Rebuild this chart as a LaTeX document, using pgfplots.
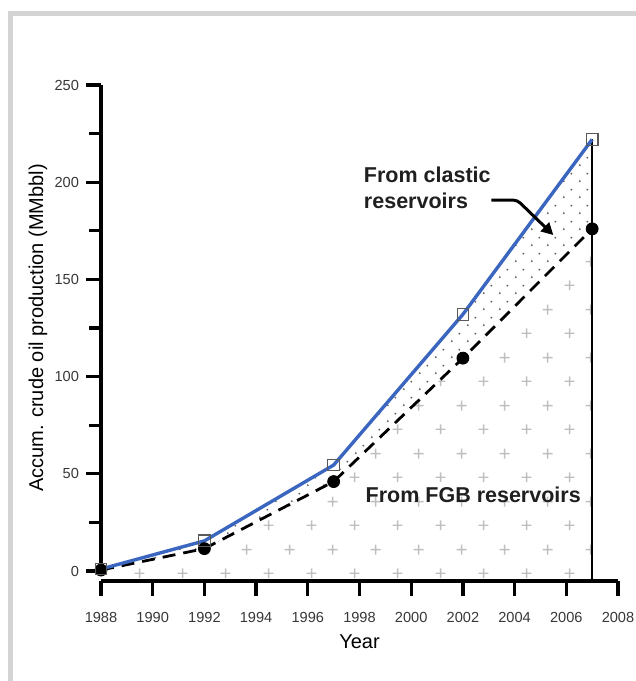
\documentclass[border=0pt]{standalone}
\usepackage{fontspec}
\setmainfont{Liberation Sans}
\usepackage{pgfplots}
\pgfplotsset{compat=1.18}
\usepgfplotslibrary{fillbetween}
\usetikzlibrary{patterns.meta,arrows.meta}

\definecolor{totblue}{RGB}{58,102,192}
\definecolor{framegray}{RGB}{212,212,212}
\definecolor{txtgray}{RGB}{55,55,55}

% light grey plus signs, staggered rows
\tikzdeclarepattern{
  name=plusgrid,
  tile size={(21.5pt,24pt)},
  bounding box={(0pt,0pt) and (21.5pt,24pt)},
  code={
    \draw[line width=0.7pt] (2.9pt,6pt) -- (7.9pt,6pt) (5.4pt,3.5pt) -- (5.4pt,8.5pt);
    \draw[line width=0.7pt] (13.65pt,18pt) -- (18.65pt,18pt) (16.15pt,15.5pt) -- (16.15pt,20.5pt);
  }
}
% small dark dots
\tikzdeclarepattern{
  name=finedots,
  tile size={(8pt,8pt)},
  bounding box={(0pt,0pt) and (8pt,8pt)},
  code={
    \fill (2pt,2pt) circle (0.55pt);
    \fill (6pt,6pt) circle (0.55pt);
  }
}

\begin{document}
\begin{tikzpicture}
\begin{axis}[
  at={(0,0)}, anchor=south west,
  scale only axis, width=258.5pt, height=243pt,
  xmin=1988, xmax=2008, ymin=0, ymax=250,
  axis lines=left,
  axis line style={line width=1.6pt, -},
  axis x line shift=5pt,
  xtick={1988,1990,...,2008},
  ytick={0,50,...,250},
  minor ytick={25,75,...,225},
  tick align=outside,
  major tick length=7.5pt, minor tick length=6pt,
  every tick/.style={black, line width=1.6pt},
  /pgf/number format/1000 sep={},
  /pgf/number format/assume math mode=true,
  tick label style={font=\fontsize{7.3}{8}\selectfont, text=txtgray},
  xticklabel style={yshift=-4.5pt},
  xlabel={Year}, ylabel={Accum. crude oil production (MMbbl)},
  label style={font=\fontsize{11}{13}\selectfont, text=txtgray},
  every axis x label/.style={at={(axis description cs:0.5,-0.146)}, anchor=center},
  every axis y label/.style={at={(axis description cs:-0.1219,0.5)}, rotate=90, anchor=center},
  clip=false,
]
\addplot[draw=none, name path=tot] coordinates {(1988,1)(1992,15.5)(1997,54.5)(2002,132)(2007,222)};
\addplot[draw=none, name path=fgb] coordinates {(1988,0.5)(1992,11.5)(1997,46)(2002,109.5)(2007,176)};
\addplot[draw=none, name path=base] coordinates {(1988,-4.8)(2007,-4.8)};
\addplot[draw=none, pattern=finedots, pattern color=black!60] fill between[of=tot and fgb];
\addplot[draw=none, pattern=plusgrid, pattern color=black!25] fill between[of=fgb and base];

% 2007 drop line
\addplot[black, line width=1pt] coordinates {(2007,222)(2007,-5)};
% FGB reservoirs
\addplot[black, line width=1.4pt, dash pattern=on 6.5pt off 4pt] coordinates {(1988,0.5)(1992,11.5)(1997,46)(2002,109.5)(2007,176)};
% total
\addplot[totblue, line width=1.7pt] coordinates {(1988,1)(1992,15.5)(1997,54.5)(2002,132)(2007,222)};
\addplot[only marks, mark=*, mark size=3pt, black] coordinates {(1988,0.5)(1992,11.5)(1997,46)(2002,109.5)(2007,176)};
\addplot[only marks, mark=square, mark size=2.9pt, mark options={draw=black!65, line width=0.6pt}] coordinates {(1988,1)(1992,15.5)(1997,54.5)(2002,132)(2007,222)};

\node[anchor=west, align=left, font=\bfseries\fontsize{10.75}{13}\selectfont, text=black!88] at (axis cs:1997.9,197) {From clastic\\reservoirs};
\node[anchor=center, font=\bfseries\fontsize{10.75}{13}\selectfont, text=black!88] at (axis cs:2002.4,39.1) {From FGB reservoirs};
\draw[line width=1.5pt, rounded corners=2pt, -{Triangle[length=6pt,width=6pt]}] (axis cs:2003.1,190.8) -- (axis cs:2004.1,190.8) -- (axis cs:2005.5,172.8);
\end{axis}
\draw[framegray, line width=2.5pt] (-45.25pt,-60pt) -- (-45.25pt,278.75pt) -- (275pt,278.75pt);
\pgfresetboundingbox
\useasboundingbox (-50.5pt,-55pt) rectangle (267.5pt,285.5pt);
\end{tikzpicture}
\end{document}
